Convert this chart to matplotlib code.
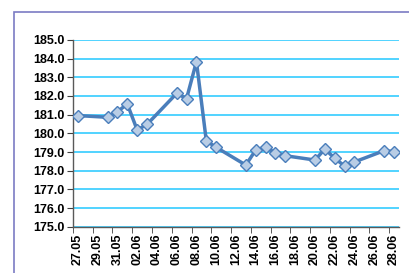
import matplotlib.pyplot as plt
from matplotlib.patches import Rectangle

# день от 27.05 (0) и значение
days = [0, 3, 4, 5, 6, 7, 10, 11, 12, 13, 14, 17, 18, 19, 20, 21,
        24, 25, 26, 27, 28, 31, 32]
values = [180.95, 180.86, 181.16, 181.57, 180.18, 180.48, 182.14, 181.86,
          183.84, 179.59, 179.25, 178.30, 179.11, 179.25, 178.96, 178.80,
          178.57, 179.16, 178.66, 178.25, 178.47, 179.07, 179.02]
tick_labels = ["27.05", "29.05", "31.05", "02.06", "04.06", "06.06", "08.06",
               "10.06", "12.06", "14.06", "16.06", "18.06", "20.06", "22.06",
               "24.06", "26.06", "28.06"]

plt.rcParams['font.family'] = ['Liberation Sans', 'DejaVu Sans']

fig = plt.figure(figsize=(4.10, 2.73), dpi=100)
fig.patches.append(Rectangle((14 / 410, -0.1), 1.2, 1 - 12 / 273 + 0.1,
                             transform=fig.transFigure, fill=False,
                             edgecolor='#7b7bc4', lw=1.2))

ax = fig.add_axes([0.178, 0.1696, 0.795, 0.684])
ax.plot(days, values, color='#4a7ebb', lw=2.5, marker='D', markersize=6.5,
        markerfacecolor='#b9cde5', markeredgecolor='#4a7ebb',
        markeredgewidth=1, zorder=3)

ax.set_ylim(175, 185)
ax.set_yticks(range(175, 186))
ax.set_yticklabels([f"{v:.1f}" for v in range(175, 186)],
                   fontsize=9, fontweight='bold')
ax.yaxis.grid(True, color='#33ccff', lw=1.2)
ax.set_axisbelow(True)

ax.set_xlim(-0.5, 32.5)
ax.set_xticks(range(0, 33, 2))
ax.set_xticklabels(tick_labels, rotation=90, fontsize=9, fontweight='bold')
ax.set_xticks([d - 0.5 for d in range(0, 33, 2)], minor=True)
ax.tick_params(axis='x', which='major', length=0, pad=5)
ax.tick_params(axis='x', which='minor', length=4, color='#404040')
ax.tick_params(axis='y', length=4, color='#404040', pad=2)

for s in ['top', 'right']:
    ax.spines[s].set_visible(False)
for s in ['left', 'bottom']:
    ax.spines[s].set_color('#595959')
    ax.spines[s].set_linewidth(1)

fig.savefig('out.png', dpi=100)
